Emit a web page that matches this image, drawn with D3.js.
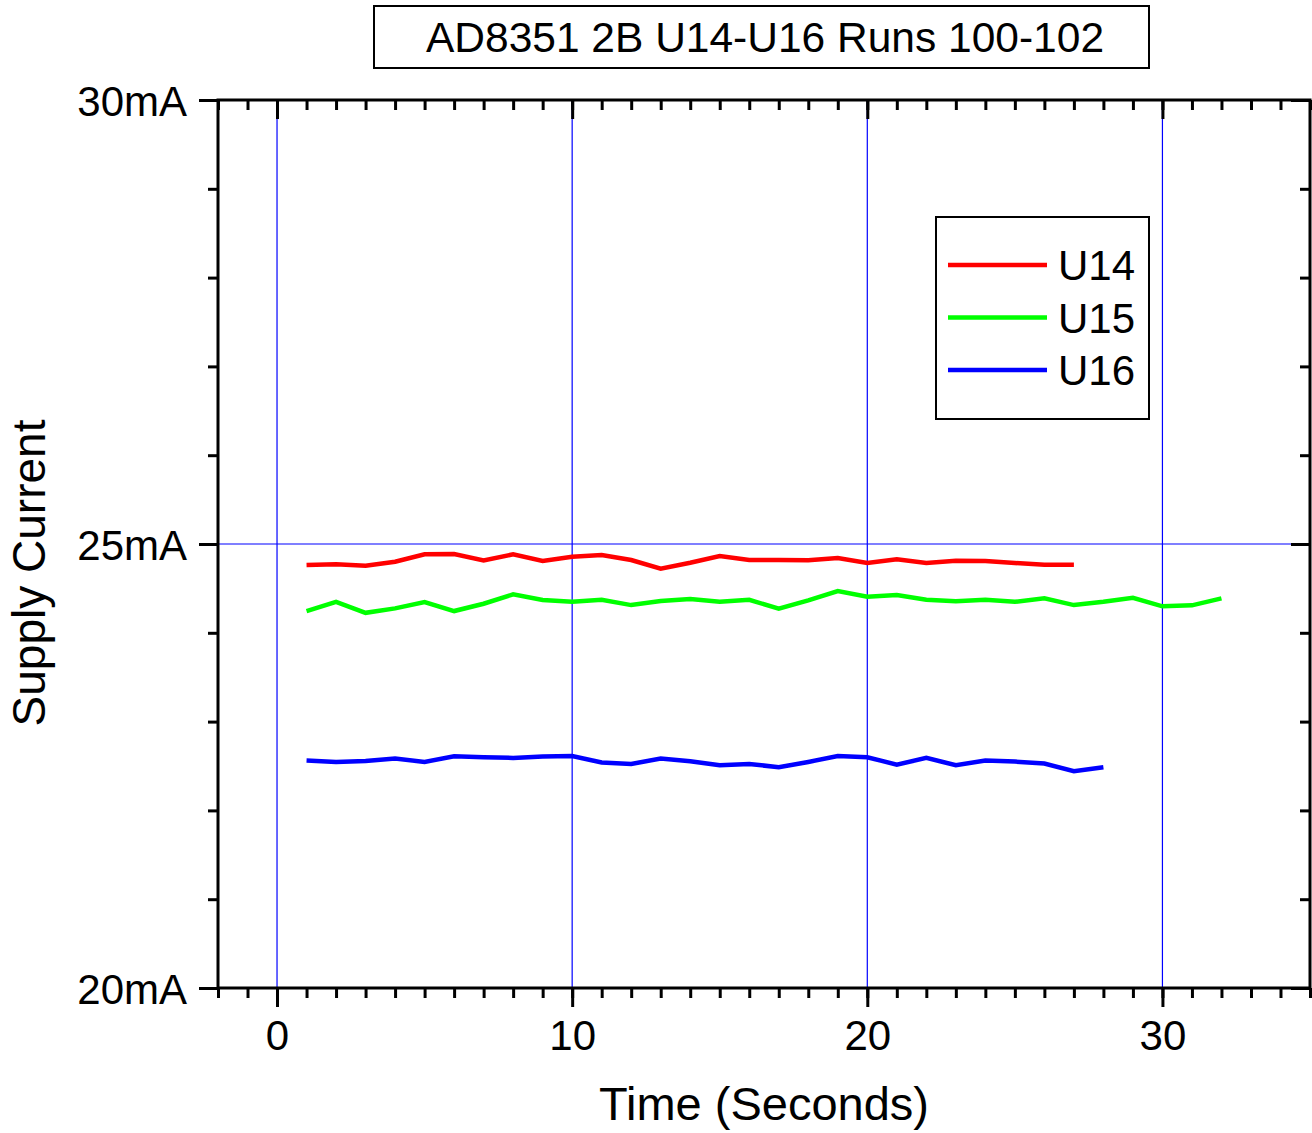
<!DOCTYPE html>
<html>
<head>
<meta charset="utf-8">
<script src="https://cdn.jsdelivr.net/npm/d3@7"></script>
<style>
  body { margin: 0; background: #fff; }
  text { font-family: "Liberation Sans", Arial, sans-serif; fill: #000; }
  .axis path { display: none; }
</style>
</head>
<body>
<svg id="chart" width="1312" height="1133"></svg>
<script>
// Time in seconds for each series
const timeU14 = d3.range(1, 28);
const timeU15 = d3.range(1, 33);
const timeU16 = d3.range(1, 29);

// Supply current (mA)
const currentU14 = [24.763, 24.771, 24.755, 24.800, 24.884, 24.887, 24.816, 24.884, 24.808, 24.857,
  24.876, 24.820, 24.722, 24.789, 24.865, 24.820, 24.820, 24.816, 24.842, 24.786,
  24.828, 24.786, 24.812, 24.808, 24.786, 24.767, 24.767];
const currentU15 = [24.245, 24.349, 24.225, 24.275, 24.346, 24.245, 24.327, 24.433, 24.369, 24.349,
  24.372, 24.312, 24.357, 24.380, 24.349, 24.372, 24.271, 24.365, 24.470, 24.406,
  24.425, 24.372, 24.354, 24.372, 24.349, 24.388, 24.312, 24.349, 24.395, 24.298,
  24.309, 24.388];
const currentU16 = [22.561, 22.546, 22.557, 22.584, 22.546, 22.610, 22.599, 22.591, 22.607, 22.613,
  22.539, 22.523, 22.584, 22.554, 22.509, 22.523, 22.486, 22.546, 22.613, 22.599,
  22.516, 22.591, 22.509, 22.561, 22.550, 22.528, 22.441, 22.486];

const seriesNames = ["U14", "U15", "U16"];
const seriesColors = ["#ff0000", "#00ff00", "#0000ff"];

const xMajorTicks = [0, 10, 20, 30];
const yMajorTicks = [20, 25, 30];

const titleText = "AD8351 2B U14-U16 Runs 100-102";
const xTitle = "Time (Seconds)";
const yTitle = "Supply Current";

// Plot frame
const margin = {left: 218, right: 2, top: 100, bottom: 145};
const width = 1312, height = 1133;
const plotW = width - margin.left - margin.right;
const plotH = height - margin.top - margin.bottom;

const svg = d3.select("#chart");

const xScale = d3.scaleLinear().domain([-2, 35]).range([0, plotW]);
const yScale = d3.scaleLinear().domain([20, 30]).range([plotH, 0]);

const g = svg.append("g").attr("transform", `translate(${margin.left},${margin.top})`);

// Grid lines
g.selectAll(".vgrid").data(xMajorTicks).enter().append("line")
  .attr("x1", d => xScale(d)).attr("x2", d => xScale(d))
  .attr("y1", 0).attr("y2", plotH)
  .attr("stroke", "#0000ff").attr("stroke-width", 1.2);
g.selectAll(".hgrid").data([25]).enter().append("line")
  .attr("x1", 0).attr("x2", plotW)
  .attr("y1", d => yScale(d)).attr("y2", d => yScale(d))
  .attr("stroke", "#0000ff").attr("stroke-width", 1.2);

// Data lines
const series = [
  {name: seriesNames[0], x: timeU14, y: currentU14, color: seriesColors[0]},
  {name: seriesNames[1], x: timeU15, y: currentU15, color: seriesColors[1]},
  {name: seriesNames[2], x: timeU16, y: currentU16, color: seriesColors[2]}
];
const line = d3.line().x(d => xScale(d[0])).y(d => yScale(d[1]));
series.forEach(s => {
  g.append("path")
    .datum(s.x.map((t, i) => [t, s.y[i]]))
    .attr("d", line)
    .attr("fill", "none")
    .attr("stroke", s.color)
    .attr("stroke-width", 4.5)
    .attr("stroke-linejoin", "miter");
});

// Axes: helper to style tick lines
function styleAxis(sel) {
  sel.selectAll(".tick line").attr("stroke", "#000").attr("stroke-width", 3);
  sel.selectAll("path").remove();
}
const xMinor = d3.range(-2, 36);
const yMinor = d3.range(20, 31);

// bottom
const bottomMinor = g.append("g").attr("class", "axis").attr("transform", `translate(0,${plotH})`)
  .call(d3.axisBottom(xScale).tickValues(xMinor).tickSize(10).tickFormat(""));
styleAxis(bottomMinor);
const bottomMajor = g.append("g").attr("class", "axis").attr("transform", `translate(0,${plotH})`)
  .call(d3.axisBottom(xScale).tickValues(xMajorTicks).tickSize(19).tickPadding(11).tickFormat(d3.format("d")));
styleAxis(bottomMajor);
bottomMajor.selectAll("text").attr("font-size", 42).attr("dy", "0.75em");

// top
const topMinor = g.append("g").attr("class", "axis")
  .call(d3.axisTop(xScale).tickValues(xMinor).tickSize(-10).tickFormat(""));
styleAxis(topMinor);
const topMajor = g.append("g").attr("class", "axis")
  .call(d3.axisTop(xScale).tickValues(xMajorTicks).tickSize(-19).tickFormat(""));
styleAxis(topMajor);

// left
const leftMinor = g.append("g").attr("class", "axis")
  .call(d3.axisLeft(yScale).tickValues(yMinor).tickSize(10).tickFormat(""));
styleAxis(leftMinor);
const leftMajor = g.append("g").attr("class", "axis")
  .call(d3.axisLeft(yScale).tickValues(yMajorTicks).tickSize(19).tickPadding(12).tickFormat(d => d + "mA"));
styleAxis(leftMajor);
leftMajor.selectAll("text").attr("font-size", 42).attr("dy", "0.36em");

// right
const rightMinor = g.append("g").attr("class", "axis").attr("transform", `translate(${plotW},0)`)
  .call(d3.axisRight(yScale).tickValues(yMinor).tickSize(-10).tickFormat(""));
styleAxis(rightMinor);
const rightMajor = g.append("g").attr("class", "axis").attr("transform", `translate(${plotW},0)`)
  .call(d3.axisRight(yScale).tickValues(yMajorTicks).tickSize(-19).tickFormat(""));
styleAxis(rightMajor);

// Frame
g.append("rect")
  .attr("x", 0).attr("y", 0).attr("width", plotW).attr("height", plotH)
  .attr("fill", "none").attr("stroke", "#000").attr("stroke-width", 3);

// Axis titles
svg.append("text")
  .attr("x", 764)
  .attr("y", 1120)
  .attr("text-anchor", "middle")
  .attr("font-size", 47)
  .text(xTitle);
svg.append("text")
  .attr("transform", "translate(45,573) rotate(-90)")
  .attr("text-anchor", "middle")
  .attr("font-size", 46)
  .text(yTitle);

// Title box
const titleG = svg.append("g");
titleG.append("rect")
  .attr("x", 374).attr("y", 6).attr("width", 775).attr("height", 62)
  .attr("fill", "#fff").attr("stroke", "#000").attr("stroke-width", 2);
titleG.append("text")
  .attr("x", 765).attr("y", 52)
  .attr("text-anchor", "middle")
  .attr("font-size", 42.5)
  .text(titleText);

// Legend
const legend = svg.append("g").attr("transform", "translate(936,217)");
legend.append("rect")
  .attr("x", 0).attr("y", 0).attr("width", 213).attr("height", 202)
  .attr("fill", "#fff").attr("stroke", "#000").attr("stroke-width", 2);
const items = legend.selectAll(".item").data(series).enter().append("g")
  .attr("transform", (d, i) => `translate(0,${48 + i * 52.5})`);
items.append("line")
  .attr("x1", 12).attr("x2", 111).attr("y1", 0).attr("y2", 0)
  .attr("stroke", d => d.color).attr("stroke-width", 4.5);
items.append("text")
  .attr("x", 122).attr("y", 0).attr("dy", "0.36em")
  .attr("font-size", 42)
  .text(d => d.name);
</script>
</body>
</html>
